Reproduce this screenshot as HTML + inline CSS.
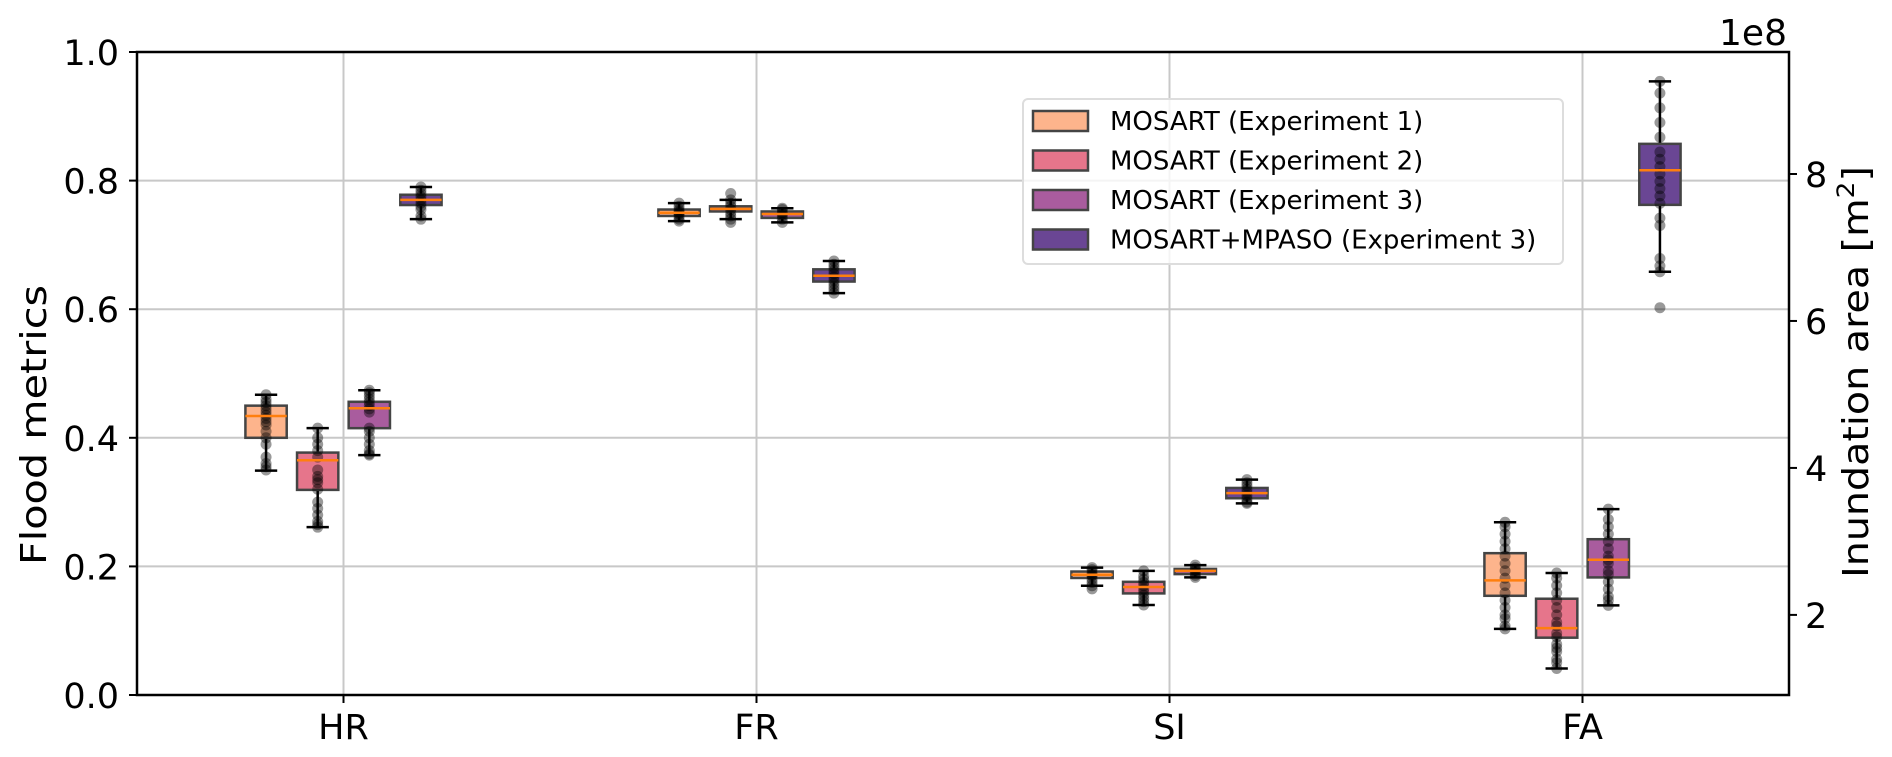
<!DOCTYPE html>
<html><head><meta charset="utf-8"><style>
html,body{margin:0;padding:0;background:#fff;}
svg{display:block;font-family:"DejaVu Sans","Liberation Sans",sans-serif;}
</style></head><body>
<svg id="chart" width="1892" height="757" viewBox="0 0 1892 757">
<g id="grid"></g>
<g id="marks"></g>
<g id="axes"></g>
<g transform="translate(46 425) rotate(-90) scale(1.15 1)">
<text x="0" y="0" font-size="36" text-anchor="middle">Flood metrics</text>
</g>
<g transform="translate(1868 372) rotate(-90) scale(1.1 1)">
<text x="0" y="0" font-size="36" text-anchor="middle">Inundation area [m<tspan font-size="24" dy="-14">2</tspan><tspan dy="14">]</tspan></text>
</g>
<text x="1787" y="45" font-size="36" text-anchor="end">1e8</text>
<g id="legend"></g>
</svg>
<script>
const categories = ["HR","FR","SI","FA"];
const seriesNames = ["MOSART (Experiment 1)","MOSART (Experiment 2)","MOSART (Experiment 3)","MOSART+MPASO (Experiment 3)"];
const seriesColors = ["#fdb48c","#e6758b","#a95c9e","#6a4694"];
const leftTicks = [0.0,0.2,0.4,0.6,0.8,1.0];
const rightTicks = [2,4,6,8];
// [low whisker, Q1, median, Q3, high whisker]; FA in units of 1e8 m2 (right axis)
const exp1Stats = [[0.349,0.40,0.434,0.45,0.467],[0.737,0.745,0.750,0.755,0.765],[0.170,0.182,0.187,0.192,0.198],[1.81,2.26,2.47,2.84,3.26]];
const exp2Stats = [[0.261,0.319,0.365,0.377,0.415],[0.740,0.752,0.756,0.760,0.770],[0.140,0.158,0.168,0.176,0.193],[1.27,1.69,1.82,2.22,2.57]];
const exp3Stats = [[0.373,0.415,0.446,0.456,0.474],[0.735,0.742,0.748,0.752,0.757],[0.183,0.188,0.193,0.196,0.202],[2.13,2.51,2.75,3.03,3.44]];
const exp4Stats = [[0.740,0.762,0.770,0.778,0.790],[0.625,0.643,0.652,0.662,0.675],[0.298,0.306,0.314,0.322,0.335],[6.67,7.58,8.05,8.41,9.26]];
const exp1Points = [[0.35,0.355,0.36,0.37,0.39,0.40,0.41,0.42,0.425,0.43,0.435,0.44,0.445,0.45,0.455,0.46,0.467],[0.737,0.74,0.745,0.748,0.75,0.752,0.755,0.76,0.765],[0.165,0.17,0.175,0.18,0.185,0.187,0.19,0.195,0.198],[1.81,1.85,1.95,2.0,2.1,2.2,2.3,2.4,2.5,2.6,2.7,2.8,2.9,3.0,3.1,3.2,3.26]];
const exp2Points = [[0.261,0.265,0.27,0.28,0.29,0.30,0.32,0.33,0.335,0.34,0.35,0.37,0.38,0.39,0.40,0.415],[0.735,0.74,0.745,0.75,0.755,0.76,0.765,0.77,0.78],[0.14,0.145,0.15,0.155,0.16,0.165,0.17,0.175,0.18,0.185,0.193],[1.27,1.35,1.4,1.5,1.55,1.6,1.7,1.75,1.85,1.9,2.0,2.1,2.2,2.3,2.4,2.5,2.57]];
const exp3Points = [[0.373,0.375,0.38,0.39,0.40,0.41,0.415,0.44,0.445,0.45,0.455,0.46,0.465,0.47,0.474],[0.735,0.74,0.745,0.748,0.75,0.755,0.757],[0.183,0.186,0.19,0.193,0.195,0.198,0.202],[2.13,2.2,2.25,2.35,2.45,2.55,2.6,2.7,2.75,2.8,2.9,3.0,3.1,3.2,3.3,3.44]];
const exp4Points = [[0.740,0.745,0.755,0.76,0.765,0.77,0.775,0.78,0.785,0.79],[0.625,0.63,0.635,0.64,0.645,0.65,0.655,0.66,0.665,0.67,0.675],[0.298,0.3,0.305,0.31,0.315,0.32,0.325,0.33,0.335],[6.18,6.67,6.75,6.85,7.3,7.4,7.6,7.7,7.8,7.9,8.0,8.1,8.2,8.3,8.5,8.7,8.9,9.1,9.26]];
const allStats = [exp1Stats,exp2Stats,exp3Stats,exp4Stats];
const allPoints = [exp1Points,exp2Points,exp3Points,exp4Points];

const NS="http://www.w3.org/2000/svg";
const PL=137,PR=1789,PT=52,PB=695;
const RMIN=0.91,RMAX=9.66;
function xCat(i){return PL+(PR-PL)*(i+0.5)/categories.length;}
function yL(v){return PB-(PB-PT)*v;}
function yR(v){return PB-(PB-PT)*(v-RMIN)/(RMAX-RMIN);}
function mk(tag,attrs,parent){const e=document.createElementNS(NS,tag);for(const k in attrs)e.setAttribute(k,attrs[k]);parent.appendChild(e);return e;}
const grid=document.getElementById('grid'),marks=document.getElementById('marks'),axes=document.getElementById('axes'),legend=document.getElementById('legend');
const step=(PR-PL)/categories.length;
leftTicks.forEach(t=>{const l=mk('line',{x1:PL,x2:PR,y1:yL(t),y2:yL(t),stroke:'#c8c8c8','stroke-width':2},grid);

});
categories.forEach((c,i)=>{const l=mk('line',{x1:xCat(i),x2:xCat(i),y1:PT,y2:PB,stroke:'#c8c8c8','stroke-width':2},grid);

});
const offsets=[-1.5,-0.5,0.5,1.5];
const bw=step*0.1;
categories.forEach((c,i)=>{
  const yf=(i===3)?yR:yL;
  allStats.forEach((S,s)=>{
    const st=S[i];const cx=xCat(i)+offsets[s]*step*0.125;
    const g=mk('g',{},marks);
    
    
    mk('line',{x1:cx,x2:cx,y1:yf(st[0]),y2:yf(st[1]),stroke:'#000','stroke-width':2.5},g);
    mk('line',{x1:cx,x2:cx,y1:yf(st[3]),y2:yf(st[4]),stroke:'#000','stroke-width':2.5},g);
    mk('line',{x1:cx-bw*0.27,x2:cx+bw*0.27,y1:yf(st[0]),y2:yf(st[0]),stroke:'#000','stroke-width':2.5},g);
    mk('line',{x1:cx-bw*0.27,x2:cx+bw*0.27,y1:yf(st[4]),y2:yf(st[4]),stroke:'#000','stroke-width':2.5},g);
    mk('rect',{x:cx-bw/2,y:yf(st[3]),width:bw,height:Math.max(1,yf(st[1])-yf(st[3])),fill:seriesColors[s],stroke:'#444','stroke-width':2.5},g);
    allPoints[s][i].forEach(v=>{const p=mk('circle',{cx:cx,cy:yf(v),r:5.5,fill:'#000','fill-opacity':0.4},g);
      
      });
    mk('line',{x1:cx-bw/2,x2:cx+bw/2,y1:yf(st[2]),y2:yf(st[2]),stroke:'#ff7f0e','stroke-width':2.5},g);
  });
});
mk('rect',{x:PL,y:PT,width:PR-PL,height:PB-PT,fill:'none',stroke:'#000','stroke-width':2.5},axes);
leftTicks.forEach(t=>{mk('line',{x1:PL-8,x2:PL,y1:yL(t),y2:yL(t),stroke:'#000','stroke-width':2},axes);
  const tx=mk('text',{x:PL-18,y:yL(t)+13,'font-size':35,'text-anchor':'end'},axes);tx.textContent=t.toFixed(1);
  
  });
rightTicks.forEach(t=>{mk('line',{x1:PR,x2:PR+8,y1:yR(t),y2:yR(t),stroke:'#000','stroke-width':2},axes);
  const tx=mk('text',{x:PR+16,y:yR(t)+13,'font-size':35},axes);tx.textContent=t;
  
  });
categories.forEach((c,i)=>{mk('line',{x1:xCat(i),x2:xCat(i),y1:PB,y2:PB+8,stroke:'#000','stroke-width':2},axes);
  const tx=mk('text',{x:xCat(i),y:739,'font-size':35,'text-anchor':'middle'},axes);tx.textContent=c;
  
  });
mk('rect',{x:1023,y:99,width:540,height:165,rx:5,fill:'#fff','fill-opacity':0.8,stroke:'#ddd','stroke-width':2},legend);
seriesNames.forEach((n,s)=>{const cy=121+s*39.5;
  const g=mk('g',{},legend);
  
  
  mk('rect',{x:1033,y:cy-10,width:55,height:20,fill:seriesColors[s],stroke:'#444','stroke-width':2.5},g);
  const tx=mk('text',{x:1110,y:cy+9,'font-size':26},g);tx.textContent=n;});
</script>
</body></html>
